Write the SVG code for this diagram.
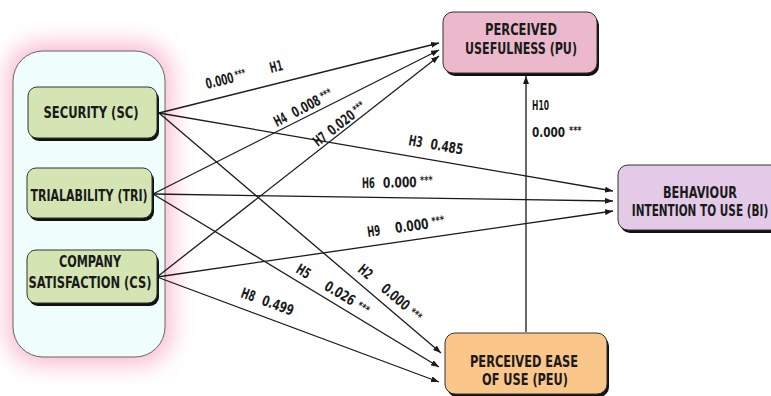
<svg xmlns="http://www.w3.org/2000/svg" width="771" height="396" viewBox="0 0 771 396">
<defs>
<filter id="glow" x="-40%" y="-40%" width="180%" height="180%"><feGaussianBlur stdDeviation="11"/></filter>
<marker id="ah" markerUnits="userSpaceOnUse" markerWidth="8" markerHeight="6" refX="8" refY="3" orient="auto"><path d="M0,0 L8,3 L0,6 z" fill="#1a1a1a"/></marker>
<style>
.nt{font-family:"DejaVu Sans Condensed","Liberation Sans",sans-serif;font-weight:bold;font-size:16px;fill:#1a1a1a;text-anchor:middle}
.lb{font-family:"DejaVu Sans Condensed","Liberation Sans",sans-serif;font-weight:bold;font-size:14.5px;fill:#1a1a1a}
.st{font-size:11px}
.sh{fill:#111}
.bx{stroke:#333;stroke-width:1}
.ed{stroke:#1a1a1a;stroke-width:1.3;fill:none;marker-end:url(#ah)}
</style>
</defs>
<rect width="771" height="396" fill="#ffffff"/>
<g id="container">
<rect x="7" y="43" width="165" height="322" rx="34" fill="#f590b3" opacity="0.6" filter="url(#glow)"/>
<rect x="13" y="51" width="152" height="306" rx="30" fill="#effdfd" stroke="#666" stroke-width="1"/>
</g>
<g id="connectors">
<path class="ed" d="M159,113 L439,43"/>
<path class="ed" d="M159,113 L441,353"/>
<path class="ed" d="M159,113 L613,191"/>
<path class="ed" d="M153,194 L439,50"/>
<path class="ed" d="M153,194 L439,367"/>
<path class="ed" d="M153,194 L613,201"/>
<path class="ed" d="M157,277 L439,56"/>
<path class="ed" d="M157,277 L439,382"/>
<path class="ed" d="M157,277 L613,211"/>
<path class="ed" d="M526,332 L526,76"/>
</g>
<g id="labels">
<g transform="translate(207,89) rotate(-14)"><text class="lb" transform="scale(0.69,1)">0.000<tspan class="st" dx="3" dy="-3">***</tspan></text><text class="lb" x="66" textLength="13" lengthAdjust="spacingAndGlyphs">H1</text></g>
<g transform="translate(277,127) rotate(-27.5)"><text class="lb" textLength="13" lengthAdjust="spacingAndGlyphs">H4</text><text class="lb" transform="translate(20,0) scale(0.74,1)">0.008<tspan class="st" dx="3" dy="-3">***</tspan></text></g>
<g transform="translate(318,147) rotate(-38)"><text class="lb" textLength="13" lengthAdjust="spacingAndGlyphs">H7</text><text class="lb" transform="translate(18,0) scale(0.74,1)">0.020<tspan class="st" dx="3" dy="-3">***</tspan></text></g>
<g transform="translate(408,145) rotate(10)"><text class="lb" textLength="14" lengthAdjust="spacingAndGlyphs">H3</text><text class="lb" transform="translate(22,0) scale(0.8,1)">0.485</text></g>
<g transform="translate(362,188) rotate(-1)"><text class="lb" textLength="13" lengthAdjust="spacingAndGlyphs">H6</text><text class="lb" transform="translate(21,0) scale(0.82,1)">0.000<tspan class="st" dx="4" dy="-3">***</tspan></text></g>
<g transform="translate(368,237) rotate(-8)"><text class="lb" textLength="13" lengthAdjust="spacingAndGlyphs">H9</text><text class="lb" transform="translate(28,0) scale(0.82,1)">0.000<tspan class="st" dx="4" dy="-3">***</tspan></text></g>
<text class="lb" x="532" y="110" textLength="17" lengthAdjust="spacingAndGlyphs">H10</text>
<text class="lb" transform="translate(532,137) scale(0.8,1)">0.000<tspan class="st" dx="5" dy="-3">***</tspan></text>
<g transform="translate(357,271) rotate(40)"><text class="lb" textLength="14" lengthAdjust="spacingAndGlyphs">H2</text><text class="lb" transform="translate(30,0) scale(0.78,1)">0.000<tspan class="st" dx="6" dy="-1">***</tspan></text></g>
<g transform="translate(295,272) rotate(31)"><text class="lb" textLength="14" lengthAdjust="spacingAndGlyphs">H5</text><text class="lb" transform="translate(33,0) scale(0.8,1)">0.026<tspan class="st" dx="6" dy="-1">***</tspan></text></g>
<g transform="translate(240,297) rotate(20)"><text class="lb" textLength="14" lengthAdjust="spacingAndGlyphs">H8</text><text class="lb" transform="translate(22,0) scale(0.8,1)">0.499</text></g>
</g>
<g id="SC">
<rect class="sh" x="30" y="90" width="129" height="51" rx="9"/>
<rect class="bx" x="28" y="87" width="129" height="51" rx="9" fill="#d4e5b3"/>
<text class="nt" x="91" y="118" textLength="95" lengthAdjust="spacingAndGlyphs">SECURITY (SC)</text>
</g>
<g id="TRI">
<rect class="sh" x="29" y="171" width="125" height="50" rx="9"/>
<rect class="bx" x="27" y="168" width="125" height="50" rx="9" fill="#d4e5b3"/>
<text class="nt" x="89" y="201" textLength="117" lengthAdjust="spacingAndGlyphs">TRIALABILITY (TRI)</text>
</g>
<g id="CS">
<rect class="sh" x="29" y="253" width="130" height="53" rx="9"/>
<rect class="bx" x="27" y="250" width="130" height="53" rx="9" fill="#d4e5b3"/>
<text class="nt" x="90" y="267" textLength="62" lengthAdjust="spacingAndGlyphs">COMPANY</text>
<text class="nt" x="90" y="288" textLength="123" lengthAdjust="spacingAndGlyphs">SATISFACTION (CS)</text>
</g>
<g id="PU">
<rect class="sh" x="445" y="15" width="154" height="61" rx="10"/>
<rect class="bx" x="443" y="12" width="154" height="61" rx="10" fill="#ebb9cb"/>
<text class="nt" x="521" y="35" textLength="72" lengthAdjust="spacingAndGlyphs">PERCEIVED</text>
<text class="nt" x="521" y="54" textLength="112" lengthAdjust="spacingAndGlyphs">USEFULNESS (PU)</text>
</g>
<g id="BI">
<rect class="sh" x="620" y="168" width="170" height="65" rx="10"/>
<rect class="bx" x="618" y="165" width="170" height="65" rx="10" fill="#e3cbe8"/>
<text class="nt" x="700" y="198" textLength="74" lengthAdjust="spacingAndGlyphs">BEHAVIOUR</text>
<text class="nt" transform="translate(700,216) scale(0.73,1)">INTENTION TO USE (BI)</text>
</g>
<g id="PEU">
<rect class="sh" x="447" y="336" width="162" height="61" rx="10"/>
<rect class="bx" x="445" y="333" width="162" height="61" rx="10" fill="#fac68a"/>
<text class="nt" x="524" y="367" textLength="108" lengthAdjust="spacingAndGlyphs">PERCEIVED EASE</text>
<text class="nt" x="525" y="385" textLength="86" lengthAdjust="spacingAndGlyphs">OF USE (PEU)</text>
</g>
</svg>
